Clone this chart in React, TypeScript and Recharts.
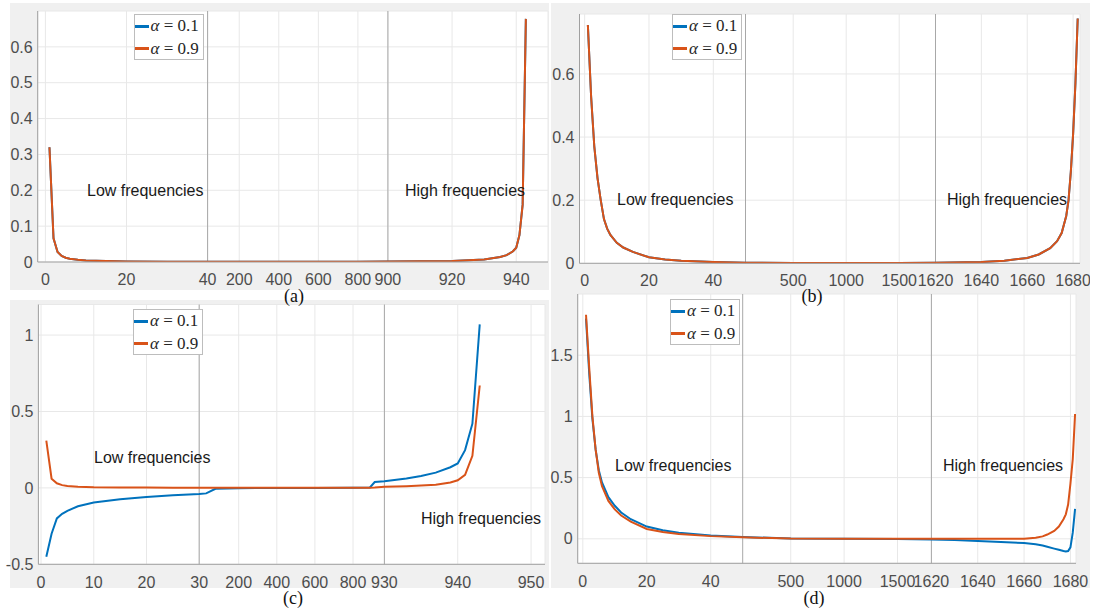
import React from "react";
import { LineChart, Line, XAxis, YAxis, CartesianGrid, ReferenceLine } from "recharts";

const BLUE = "#0072BD";
const ORANGE = "#D95319";
const SANS = "'Liberation Sans', Arial, sans-serif";
const SERIF = "'Liberation Serif', 'Times New Roman', serif";

const SERIES = [
  { key: "a01", value: "0.1", color: BLUE },
  { key: "a09", value: "0.9", color: ORANGE },
];

// (a)
const A_X = [1, 2, 3, 4, 5, 6, 8, 10, 15, 20, 30, 40, 200, 400, 600, 800, 900, 910, 920, 925, 930, 933, 935, 937, 939, 940, 941, 942, 943];
const A_ALPHA01 = [0.32, 0.066, 0.028, 0.017, 0.012, 0.009, 0.006, 0.004, 0.0025, 0.0015, 0.001, 0.0008, 0.0005, 0.0005, 0.0005, 0.0005, 0.0015, 0.002, 0.003, 0.005, 0.007, 0.011, 0.014, 0.019, 0.03, 0.04, 0.075, 0.16, 0.678];
const A_ALPHA09 = [0.32, 0.066, 0.028, 0.017, 0.012, 0.009, 0.006, 0.004, 0.0025, 0.0015, 0.001, 0.0008, 0.0005, 0.0005, 0.0005, 0.0005, 0.0015, 0.002, 0.003, 0.005, 0.007, 0.011, 0.014, 0.019, 0.03, 0.04, 0.075, 0.16, 0.678];
const A_XTICKS = [0, 20, 40, 200, 400, 600, 800, 900, 920, 940];
const A_YTICKS = [0, 0.1, 0.2, 0.3, 0.4, 0.5, 0.6];
const A_BREAKS = [40, 900];

// (b)
const B_X = [1, 2, 3, 4, 5, 6, 7, 8, 10, 12, 15, 20, 25, 30, 40, 50, 500, 1000, 1500, 1620, 1640, 1650, 1660, 1665, 1670, 1673, 1675, 1677, 1678, 1679, 1680, 1681, 1682];
const B_ALPHA01 = [0.755, 0.53, 0.37, 0.27, 0.2, 0.14, 0.11, 0.09, 0.065, 0.05, 0.036, 0.019, 0.012, 0.008, 0.004, 0.002, 0.001, 0.001, 0.001, 0.002, 0.004, 0.008, 0.017, 0.028, 0.048, 0.07, 0.096, 0.15, 0.2, 0.29, 0.41, 0.57, 0.776];
const B_ALPHA09 = [0.755, 0.53, 0.37, 0.27, 0.2, 0.14, 0.11, 0.09, 0.065, 0.05, 0.036, 0.019, 0.012, 0.008, 0.004, 0.002, 0.001, 0.001, 0.001, 0.002, 0.004, 0.008, 0.017, 0.028, 0.048, 0.07, 0.096, 0.15, 0.2, 0.29, 0.41, 0.57, 0.776];
const B_XTICKS = [0, 20, 40, 500, 1000, 1500, 1620, 1640, 1660, 1680];
const B_YTICKS = [0, 0.2, 0.4, 0.6];
const B_BREAKS = [50, 1620];

// (c)
const C_X = [1, 2, 3, 4, 5, 7, 10, 15, 20, 25, 30, 60, 100, 200, 400, 600, 800, 870, 890, 930, 933, 935, 937, 939, 940, 941, 942, 943];
const C_ALPHA01 = [-0.45, -0.3, -0.2, -0.17, -0.15, -0.12, -0.095, -0.075, -0.06, -0.048, -0.04, -0.036, -0.006, -0.002, 0, 0, 0.001, 0.003, 0.038, 0.044, 0.062, 0.078, 0.1, 0.135, 0.16, 0.247, 0.42, 1.07];
const C_ALPHA09 = [0.31, 0.06, 0.03, 0.018, 0.012, 0.007, 0.004, 0.003, 0.002, 0.0015, 0.001, 0.0008, 0.0005, 0.0005, 0.0005, 0.0005, 0.0005, 0.001, 0.002, 0.008, 0.011, 0.015, 0.021, 0.035, 0.05, 0.085, 0.21, 0.67];
const C_XTICKS = [0, 10, 20, 30, 200, 400, 600, 800, 930, 940, 950];
const C_YTICKS = [-0.5, 0, 0.5, 1];
const C_BREAKS = [30, 930];

// (d)
const D_X = [1, 2, 3, 4, 5, 6, 8, 10, 12, 15, 20, 25, 30, 40, 50, 500, 1000, 1500, 1620, 1630, 1640, 1650, 1660, 1665, 1668, 1670, 1673, 1675, 1677, 1678, 1679, 1680, 1681, 1682];
const D_ALPHA01 = [1.8, 1.35, 0.98, 0.73, 0.56, 0.46, 0.34, 0.27, 0.215, 0.16, 0.1, 0.07, 0.05, 0.028, 0.015, 0.003, 0.001, -0.002, -0.005, -0.01, -0.017, -0.025, -0.035, -0.045, -0.055, -0.065, -0.08, -0.09, -0.1, -0.104, -0.1, -0.07, 0.05, 0.245];
const D_ALPHA09 = [1.83, 1.4, 1.0, 0.73, 0.54, 0.43, 0.31, 0.24, 0.19, 0.14, 0.08, 0.055, 0.04, 0.022, 0.012, 0.002, 0.001, 0, 0, 0, 0, 0, 0, 0.008, 0.02, 0.035, 0.065, 0.1, 0.16, 0.2, 0.28, 0.45, 0.65, 1.02];
const D_XTICKS = [0, 20, 40, 500, 1000, 1500, 1620, 1640, 1660, 1680];
const D_YTICKS = [0, 0.5, 1, 1.5];
const D_BREAKS = [50, 1620];

type Seg = [number, number][];

// broken x axis: value -> pixel, piecewise linear
function place(v: number, m: Seg) {
  for (let i = 0; i < m.length - 1; i++) {
    const [v0, p0] = m[i];
    const [v1, p1] = m[i + 1];
    if (v <= v1 || i === m.length - 2) return p0 + ((v - v0) / (v1 - v0)) * (p1 - p0);
  }
  return m[0][1];
}

function AlphaLegend({ left, top }: { left: number; top: number }) {
  return (
    <div
      style={{
        position: "absolute", left, top, width: 70, height: 46,
        background: "#fff", border: "1px solid #bdbdbd", boxSizing: "border-box",
        fontFamily: SERIF, fontSize: 17, color: "#262626",
      }}
    >
      {SERIES.map((s, i) => (
        <div key={s.key} style={{ position: "absolute", left: 0, top: 1 + i * 22.5, height: 20, display: "flex", alignItems: "center", whiteSpace: "nowrap" }}>
          <span style={{ display: "inline-block", width: 14, height: 3, background: s.color, marginRight: 2 }} />
          <span><i>α</i>&nbsp;=&nbsp;{s.value}</span>
        </div>
      ))}
    </div>
  );
}

function Note({ x, y, text }: { x: number; y: number; text: string }) {
  return (
    <div style={{ position: "absolute", left: x, top: y - 10, fontFamily: SANS, fontSize: 16, color: "#1a1a1a", whiteSpace: "nowrap", lineHeight: "20px" }}>
      {text}
    </div>
  );
}

type PanelProps = {
  box: { left: number; top: number; width: number; height: number };
  plotTop: number;
  plotBottom: number;
  xmap: Seg;
  yDomain: [number, number];
  xTicks: number[];
  yTicks: number[];
  breaks: number[];
  xs: number[];
  s01: number[];
  s09: number[];
  tickGap: number;
};

const PAD = 10; // extra room so tick labels are not clipped

function Panel(p: PanelProps) {
  const rows = p.xs.map((x, i) => ({ pos: place(x, p.xmap), a01: p.s01[i], a09: p.s09[i] }));
  const tickPos = p.xTicks.map((t) => place(t, p.xmap));
  const label = (u: number) => {
    const i = tickPos.findIndex((q) => Math.abs(q - u) < 0.01);
    return i >= 0 ? String(p.xTicks[i]) : "";
  };
  const plotL = p.xmap[0][1];
  const plotR = p.xmap[p.xmap.length - 1][1];
  const { box } = p;
  const left = box.left - PAD;
  const width = box.width + PAD;
  const height = box.height + PAD;
  return (
    <>
      <div style={{ position: "absolute", left: box.left, top: box.top, width: box.width, height: box.height, background: "#f0f0f0" }} />
      <div style={{ position: "absolute", left, top: box.top, width, height }}>
        <LineChart
          width={width}
          height={height}
          data={rows}
          margin={{ top: p.plotTop - box.top, right: box.left + box.width - plotR, bottom: 0, left: 0 }}
        >
          <CartesianGrid fill="#ffffff" stroke="#e8e8e8" />
          <XAxis
            type="number"
            dataKey="pos"
            domain={[plotL, plotR]}
            ticks={tickPos}
            tickFormatter={label}
            interval={0}
            allowDataOverflow
            height={box.top + height - p.plotBottom}
            tickSize={0}
            tickMargin={p.tickGap}
            stroke="#a0a0a0"
            tick={{ fill: "#4d4d4d", fontSize: 16, fontFamily: SANS }}
          />
          <YAxis
            type="number"
            domain={p.yDomain}
            ticks={p.yTicks}
            allowDataOverflow
            width={plotL - left}
            tickSize={0}
            tickMargin={5}
            stroke="#a0a0a0"
            tick={{ fill: "#4d4d4d", fontSize: 16, fontFamily: SANS }}
          />
          {p.breaks.map((b) => (
            <ReferenceLine key={b} x={place(b, p.xmap)} stroke="#a8a8a8" strokeWidth={1} />
          ))}
          {SERIES.map((s) => (
            <Line key={s.key} type="linear" dataKey={s.key} stroke={s.color} strokeWidth={2} dot={false} isAnimationActive={false} />
          ))}
        </LineChart>
      </div>
    </>
  );
}

function Caption({ x, y, text }: { x: number; y: number; text: string }) {
  return (
    <div style={{ position: "absolute", left: x - 20, top: y - 11, width: 40, textAlign: "center", fontFamily: SERIF, fontSize: 18, color: "#111", lineHeight: "22px" }}>
      {text}
    </div>
  );
}

export default function App() {
  return (
    <div style={{ position: "absolute", left: 0, top: 0, width: 1096, height: 613, background: "#fff", overflow: "hidden" }}>
      <Panel
        box={{ left: 10, top: 3, width: 539, height: 287 }}
        plotTop={11}
        plotBottom={262}
        xmap={[[-1.9, 37.7], [40, 207.6], [800, 357.9], [900, 387.9], [949.9, 548]]}
        yDomain={[0, 0.7]}
        xTicks={A_XTICKS}
        yTicks={A_YTICKS}
        breaks={A_BREAKS}
        xs={A_X}
        s01={A_ALPHA01}
        s09={A_ALPHA09}
        tickGap={12}
      />
      <Panel
        box={{ left: 551, top: 3, width: 539, height: 287 }}
        plotTop={14}
        plotBottom={263.3}
        xmap={[[-1.6, 579.5], [50, 745.5], [1500, 899.2], [1620, 935.5], [1683, 1080]]}
        yDomain={[0, 0.79]}
        xTicks={B_XTICKS}
        yTicks={B_YTICKS}
        breaks={B_BREAKS}
        xs={B_X}
        s01={B_ALPHA01}
        s09={B_ALPHA09}
        tickGap={11}
      />
      <Panel
        box={{ left: 10, top: 300, width: 539, height: 288 }}
        plotTop={304.5}
        plotBottom={564.3}
        xmap={[[-0.5, 38.4], [30, 199.2], [200, 238.7], [800, 353], [930, 384.4], [951.9, 545]]}
        yDomain={[-0.5, 1.2]}
        xTicks={C_XTICKS}
        yTicks={C_YTICKS}
        breaks={C_BREAKS}
        xs={C_X}
        s01={C_ALPHA01}
        s09={C_ALPHA09}
        tickGap={12}
      />
      <Panel
        box={{ left: 551, top: 290, width: 539, height: 298 }}
        plotTop={294}
        plotBottom={563.3}
        xmap={[[-1.6, 577.7], [50, 742.7], [1500, 897.5], [1620, 931.4], [1682.4, 1076]]}
        yDomain={[-0.2, 2]}
        xTicks={D_XTICKS}
        yTicks={D_YTICKS}
        breaks={D_BREAKS}
        xs={D_X}
        s01={D_ALPHA01}
        s09={D_ALPHA09}
        tickGap={12}
      />

      <AlphaLegend left={133.5} top={14} />
      <AlphaLegend left={672} top={14} />
      <AlphaLegend left={133} top={309} />
      <AlphaLegend left={670} top={299} />

      <Note x={87} y={190.7} text="Low frequencies" />
      <Note x={405} y={190.7} text="High frequencies" />
      <Note x={617} y={200} text="Low frequencies" />
      <Note x={947} y={200} text="High frequencies" />
      <Note x={94} y={458.3} text="Low frequencies" />
      <Note x={421} y={519} text="High frequencies" />
      <Note x={615} y={465.7} text="Low frequencies" />
      <Note x={943} y={465.7} text="High frequencies" />

      <Caption x={294} y={296} text="(a)" />
      <Caption x={812} y={296} text="(b)" />
      <Caption x={293} y={598} text="(c)" />
      <Caption x={814} y={598} text="(d)" />
    </div>
  );
}
